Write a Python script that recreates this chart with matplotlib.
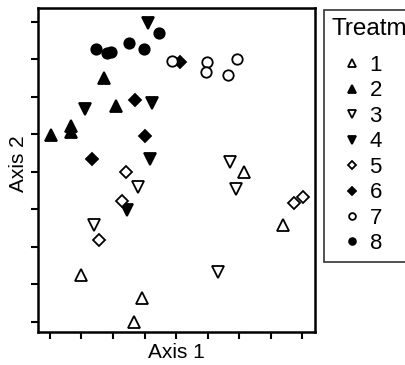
import matplotlib
matplotlib.use("Agg")
import matplotlib.pyplot as plt

# ---- data (axis units: tick index) ----
treatments = ['1', '2', '3', '4', '5', '6', '7', '8']

x1 = [6.16, 7.40, 0.98, 2.92, 2.67]
y1 = [4.00, 2.59, 1.25, 0.64, 0.00]
x2 = [1.71, 2.10, 0.03, 0.67, 0.67]
y2 = [6.51, 5.76, 4.99, 5.23, 5.07]
x3 = [5.71, 5.90, 2.79, 1.40, 5.33]
y3 = [4.27, 3.55, 3.60, 2.59, 1.33]
x4 = [3.11, 1.11, 3.24, 3.17, 2.44]
y4 = [7.97, 5.68, 5.84, 4.35, 2.99]
x5 = [2.41, 2.29, 1.56, 7.75, 8.03]
y5 = [4.00, 3.23, 2.19, 3.17, 3.33]
x6 = [4.13, 2.70, 3.02, 1.33]
y6 = [6.93, 5.92, 4.96, 4.35]
x7 = [3.87, 4.98, 4.95, 5.65, 5.94]
y7 = [6.96, 6.93, 6.67, 6.59, 7.01]
x8 = [3.46, 1.46, 1.81, 1.94, 2.51, 2.98]
y8 = [7.71, 7.28, 7.17, 7.20, 7.44, 7.28]

xs = [x1, x2, x3, x4, x5, x6, x7, x8]
ys = [y1, y2, y3, y4, y5, y6, y7, y8]

markers = ['^', '^', 'v', 'v', 'D', 'D', 'o', 'o']
filled = [False, True, False, True, False, True, False, True]
sizes = [8, 8, 8, 8, 6, 6, 7.5, 7.5]

plt.rcParams['font.family'] = ['Liberation Sans', 'DejaVu Sans']

fig = plt.figure(figsize=(4.05, 3.65), dpi=100)
ax = fig.add_axes([0.0938, 0.0904, 0.684, 0.888])

handles = []
for x, y, m, f, s, lab in zip(xs, ys, markers, filled, sizes, treatments):
    h, = ax.plot(x, y, linestyle='none', marker=m, markersize=s,
                 markerfacecolor='black' if f else 'white',
                 markeredgecolor='black', markeredgewidth=1.3, label=lab)
    handles.append(h)

ax.set_xlim(-0.38, 8.41)
ax.set_ylim(-0.27, 8.37)
ax.set_xticks(range(9))
ax.set_yticks(range(9))
ax.set_xticklabels([])
ax.set_yticklabels([])
ax.tick_params(direction='out', length=5, width=1.5, colors='black')
for sp in ax.spines.values():
    sp.set_linewidth(1.8)

ax.set_xlabel('Axis 1', fontsize=15)
ax.set_ylabel('Axis 2', fontsize=15)
ax.xaxis.set_label_coords(0.5, -0.035)
ax.yaxis.set_label_coords(-0.035, 0.52)

# legend box runs off the right edge of the figure, as in the original
leg = fig.legend(handles=handles, labels=treatments, title='Treatment',
                 loc='upper left', bbox_to_anchor=(324 / 405, 355 / 365),
                 bbox_transform=fig.transFigure, borderaxespad=0,
                 fontsize=16, title_fontsize=17.5, markerscale=0.65,
                 frameon=True, fancybox=False, edgecolor='black',
                 alignment='left', handlelength=1.8, handletextpad=-0.1,
                 labelspacing=0.2, borderpad=0.35)
leg.get_frame().set_linewidth(1.2)
# extra gap between the title and the first entry
leg._legend_box.sep = 11

fig.savefig('out.png', dpi=100)
